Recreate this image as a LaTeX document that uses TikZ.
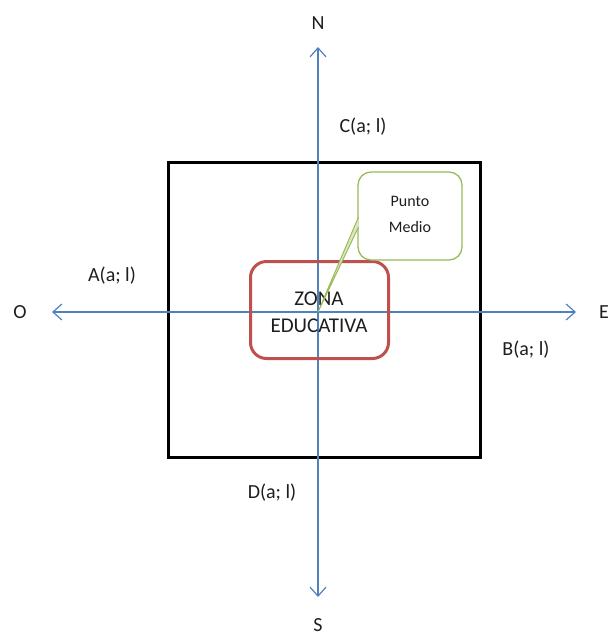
\documentclass[tikz,border=0pt]{standalone}
\usepackage{fontspec}
\setmainfont{Carlito}
\usetikzlibrary{arrows.meta}
\definecolor{axisblue}{RGB}{79,129,189}
\definecolor{zonered}{RGB}{192,80,77}
\definecolor{callgreen}{RGB}{155,187,89}
\definecolor{txt}{RGB}{30,30,30}
\begin{document}
\begin{tikzpicture}[x=1pt,y=-1pt,
  axis/.style={draw=axisblue,line width=1.2pt,-{Straight Barb[length=9pt,width=16pt,line width=1.2pt]}},
  lbl/.style={font=\fontsize{20}{22}\selectfont,text=txt,inner sep=0pt},
  card/.style={font=\fontsize{21}{22}\selectfont,text=txt,inner sep=0pt}]
\useasboundingbox (0,0) rectangle (614,638);
% black square
\draw[line width=3pt,black] (168,162) rectangle (480,457);
% axes
\coordinate (ctr) at (318,312);
\coordinate (nTip) at (318,47);
\coordinate (sTip) at (318,597);
\coordinate (oTip) at (52,312);
\coordinate (eTip) at (576,312);
\draw[axis] (ctr) -- (nTip);
\draw[axis] (ctr) -- (sTip);
\draw[axis] (ctr) -- (oTip);
\draw[axis] (ctr) -- (eTip);
% red zone box
\node[draw=zonered,line width=3pt,rounded corners=16pt,minimum width=138pt,minimum height=97pt,inner sep=0pt] (zona) at (319.5,310) {};
\node[card,align=center] (zonatxt) at (319,312) {ZONA\\[5pt]EDUCATIVA};
% callout
\node[draw=callgreen,line width=1.3pt,rounded corners=13pt,minimum width=104pt,minimum height=88pt,fill=white,inner sep=0pt] (pm) at (410,216) {};
\node[font=\fontsize{16}{18}\selectfont,text=txt,align=center,inner sep=0pt] (pmtxt) at (410,214) {Punto\\[8pt]Medio};
\coordinate (ptA) at (358.5,217);
\coordinate (ptB) at (358.5,227);
\draw[callgreen,line width=1pt,fill=callgreen!35] (ptA) -- (ctr) -- (ptB);
% compass labels
\node[lbl] (N) at (318,23) {N};
\node[lbl] (S) at (318,625) {S};
\node[lbl] (O) at (20,312) {O};
\node[lbl] (E) at (604,312) {E};
% point labels
\node[lbl] (C) at (363,127) {C(a; l)};
\node[lbl] (A) at (112,276) {A(a; l)};
\node[lbl] (B) at (526,350) {B(a; l)};
\node[lbl] (D) at (272,493) {D(a; l)};
\end{tikzpicture}
\end{document}
